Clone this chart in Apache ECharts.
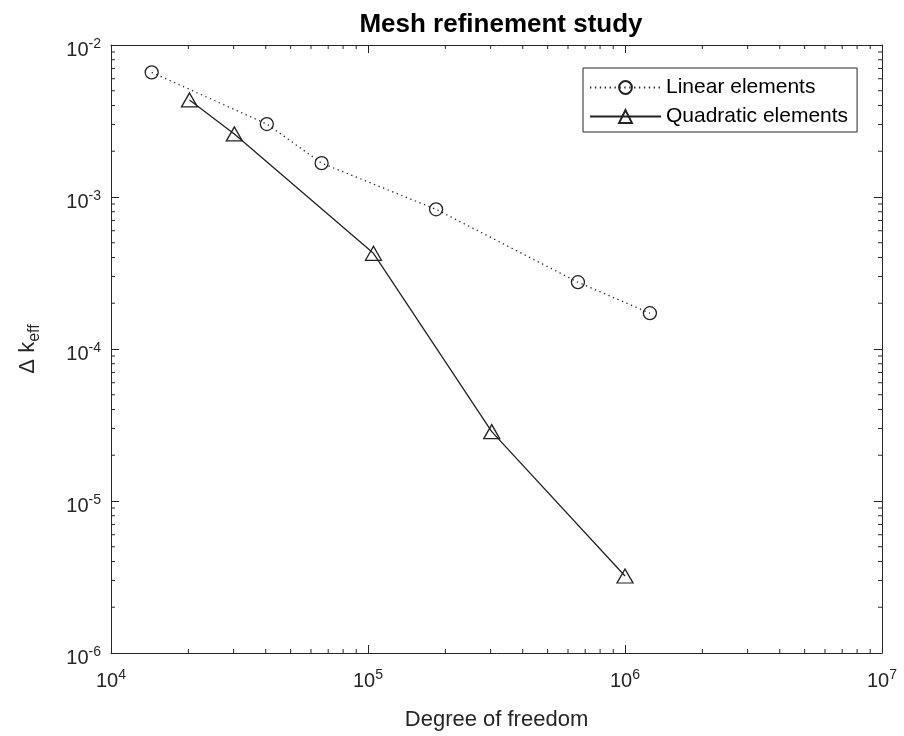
<!DOCTYPE html>
<html>
<head>
<meta charset="utf-8">
<script src="https://cdn.jsdelivr.net/npm/echarts@6/dist/echarts.min.js"></script>
<style>
  html, body { margin: 0; padding: 0; background: #fff; }
  #chart { width: 904px; height: 736px; }
</style>
</head>
<body>
<div id="chart"></div>
<script>
// Mesh refinement study: error in k_eff against degrees of freedom
const dofLinear = [14400, 40400, 66000, 184000, 656000, 1250000];
const errLinear = [6.6e-3, 3.02e-3, 1.67e-3, 8.3e-4, 2.75e-4, 1.72e-4];

const dofQuadratic = [20200, 30200, 105000, 303000, 1000000];
const errQuadratic = [4.35e-3, 2.6e-3, 4.26e-4, 2.86e-5, 3.21e-6];

const xTickExponents = [4, 5, 6, 7];
const yTickExponents = [-6, -5, -4, -3, -2];
const minorMultipliers = [2, 3, 4, 5, 6, 7, 8, 9];

const seriesNames = ['Linear elements', 'Quadratic elements'];

const INK = '#262626';
const LINE = '#222222';
const FONT = '"Liberation Sans", Arial, Helvetica, sans-serif';

const xMin = Math.pow(10, xTickExponents[0]);
const xMax = Math.pow(10, xTickExponents[xTickExponents.length - 1]);
const yMin = Math.pow(10, yTickExponents[0]);
const yMax = Math.pow(10, yTickExponents[yTickExponents.length - 1]);

// minor tick positions inside each decade
const xMinor = [];
for (let i = 0; i < xTickExponents.length - 1; i++) {
  minorMultipliers.forEach(m => xMinor.push(m * Math.pow(10, xTickExponents[i])));
}
const yMinor = [];
for (let i = 0; i < yTickExponents.length - 1; i++) {
  minorMultipliers.forEach(m => yMinor.push(m * Math.pow(10, yTickExponents[i])));
}

const powerLabel = v => '{b|10}{s|' + Math.round(Math.log10(v)) + '}';
const powerRich = {
  b: { fontSize: 20, lineHeight: 26, color: INK, fontFamily: FONT },
  s: { fontSize: 14, lineHeight: 14, color: INK, fontFamily: FONT, verticalAlign: 'top' }
};

function logAxis(dim, position, showLabels, min, max) {
  return {
    type: 'log',
    logBase: 10,
    position: position,
    min: min,
    max: max,
    gridIndex: 0,
    axisLine: { show: true, onZero: false, lineStyle: { color: INK, width: 1 } },
    axisTick: { show: true, inside: true, length: 8, lineStyle: { color: INK, width: 1 } },
    minorTick: { show: false },
    splitLine: { show: false },
    axisLabel: showLabels ? {
      show: true,
      margin: dim === 'x' ? 15 : 10,
      padding: dim === 'x' ? 0 : [10, 0, 0, 0],
      formatter: powerLabel,
      rich: powerRich
    } : { show: false }
  };
}

const chart = echarts.init(document.getElementById('chart'), null, { renderer: 'canvas' });

const xAxisBottom = logAxis('x', 'bottom', true, xMin, xMax);
xAxisBottom.name = 'Degree of freedom';
xAxisBottom.nameLocation = 'middle';
xAxisBottom.nameGap = 56;
xAxisBottom.nameTextStyle = { fontSize: 22, color: INK, fontFamily: FONT };

const yAxisLeft = logAxis('y', 'left', true, yMin, yMax);
yAxisLeft.name = '{a|Δ k}{e|eff}';
yAxisLeft.nameLocation = 'middle';
yAxisLeft.nameRotate = 90;
yAxisLeft.nameGap = 68;
yAxisLeft.nameTextStyle = {
  color: INK,
  fontFamily: FONT,
  rich: {
    a: { fontSize: 22, lineHeight: 30, color: INK, fontFamily: FONT },
    e: { fontSize: 16, lineHeight: 16, color: INK, fontFamily: FONT, verticalAlign: 'bottom' }
  }
};

const markerStyle = {
  color: 'rgba(0,0,0,0)',
  borderColor: LINE,
  borderWidth: 1.3
};

const option = {
  animation: false,
  backgroundColor: '#ffffff',
  title: {
    text: 'Mesh refinement study',
    left: 496,
    textAlign: 'center',
    top: 7,
    textStyle: { fontSize: 26, fontWeight: 'bold', color: '#000', fontFamily: FONT }
  },
  legend: {
    orient: 'vertical',
    left: 583,
    top: 68,
    padding: [9, 9, 5, 6],
    itemGap: 8,
    itemWidth: 71,
    itemHeight: 16,
    backgroundColor: '#ffffff',
    borderColor: INK,
    borderWidth: 1,
    borderRadius: 0,
    textStyle: { fontSize: 21, lineHeight: 20, color: '#000', fontFamily: FONT },
    data: seriesNames
  },
  grid: { left: 111, top: 45, width: 771, height: 608, containLabel: false },
  xAxis: [xAxisBottom, logAxis('x', 'top', false, xMin, xMax)],
  yAxis: [yAxisLeft, logAxis('y', 'right', false, yMin, yMax)],
  series: [
    {
      name: seriesNames[0],
      type: 'line',
      xAxisIndex: 0,
      yAxisIndex: 0,
      data: dofLinear.map((x, i) => [x, errLinear[i]]),
      symbol: 'circle',
      symbolSize: 13,
      showAllSymbol: true,
      lineStyle: { color: LINE, width: 1.3, type: [1.3, 3.6] },
      itemStyle: markerStyle,
      emphasis: { disabled: true },
      z: 3
    },
    {
      name: seriesNames[1],
      type: 'line',
      xAxisIndex: 0,
      yAxisIndex: 0,
      data: dofQuadratic.map((x, i) => [x, errQuadratic[i]]),
      symbol: 'triangle',
      symbolSize: [16, 14],
      showAllSymbol: true,
      lineStyle: { color: LINE, width: 1.3, type: 'solid' },
      itemStyle: markerStyle,
      emphasis: { disabled: true },
      z: 3
    },
    {
      // minor ticks on all four sides of the box
      type: 'custom',
      xAxisIndex: 0,
      yAxisIndex: 0,
      silent: true,
      clip: false,
      z: 4,
      data: xMinor.map(v => [v, yMin, 0]).concat(yMinor.map(v => [xMin, v, 1])),
      renderItem: function (params, api) {
        const kind = api.value(2);
        const len = 4;
        const style = { stroke: INK, lineWidth: 1 };
        if (kind === 0) {
          const x = api.value(0);
          const pb = api.coord([x, yMin]);
          const pt = api.coord([x, yMax]);
          return {
            type: 'group',
            children: [
              { type: 'line', shape: { x1: pb[0], y1: pb[1], x2: pb[0], y2: pb[1] - len }, style: style },
              { type: 'line', shape: { x1: pt[0], y1: pt[1], x2: pt[0], y2: pt[1] + len }, style: style }
            ]
          };
        }
        const y = api.value(1);
        const pl = api.coord([xMin, y]);
        const pr = api.coord([xMax, y]);
        return {
          type: 'group',
          children: [
            { type: 'line', shape: { x1: pl[0], y1: pl[1], x2: pl[0] + len, y2: pl[1] }, style: style },
            { type: 'line', shape: { x1: pr[0], y1: pr[1], x2: pr[0] - len, y2: pr[1] }, style: style }
          ]
        };
      }
    }
  ]
};

chart.setOption(option);
</script>
</body>
</html>
